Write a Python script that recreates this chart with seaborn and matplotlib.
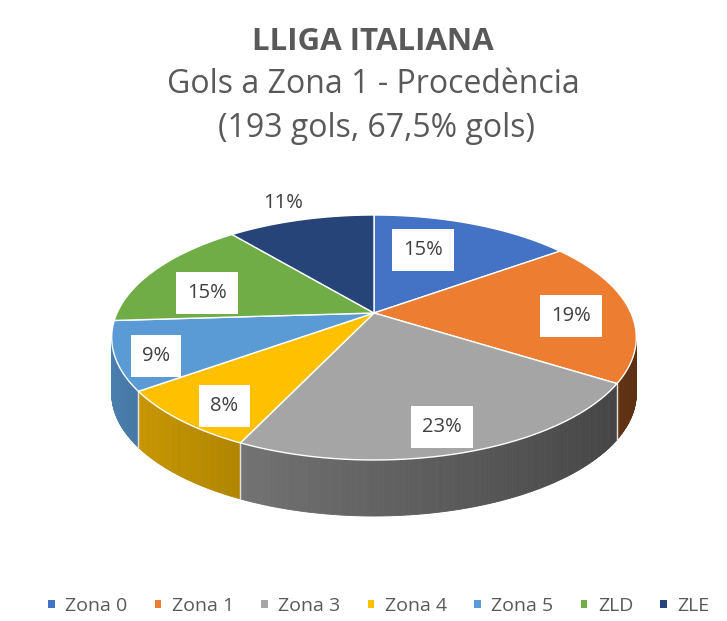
import numpy as np
import matplotlib
matplotlib.use("Agg")
import matplotlib.pyplot as plt
import seaborn as sns
from matplotlib.colors import to_rgb
from matplotlib.collections import PolyCollection
from matplotlib.path import Path
from matplotlib.transforms import Transform

# Procedència dels gols a zona 1 (lliga italiana)
categories = ["Zona 0", "Zona 1", "Zona 3", "Zona 4", "Zona 5", "ZLD", "ZLE"]
percentatges = [15, 19, 23, 8, 9, 15, 11]
colors = ["#4472C4", "#ED7D31", "#A5A5A5", "#FFC000", "#5B9BD5", "#70AD47", "#264478"]

titol = "LLIGA ITALIANA"
linia2 = "Gols a Zona 1 - Procedència"
linia3 = "(193 gols, 67,5% gols)"

# geometria del pastis "3D" (en pixels)
CX, CY = 374, 313
RX, RY = 257, 117.6
D = 5.0
GRUIX = 56
label_r = [0.45, 0.77, 0.8, 0.8, 0.85, 0.75, 1.3]
label_dy = [-19, 6, 7, 10, 7, 13, 6]
amb_caixa = [True, True, True, True, True, True, False]

sns.set_theme(style="white")
plt.rcParams["font.family"] = ["Open Sans", "DejaVu Sans"]
GRIS = "#595959"


class Perspectiva(Transform):
    input_dims = output_dims = 2
    is_separable = False

    def transform_non_affine(self, values):
        v = np.asarray(values, dtype=float)
        s = D / (D + v[:, 1])
        return np.column_stack([CX + RX * v[:, 0] * s, CY - RY * v[:, 1] * s])

    def transform_path_non_affine(self, path):
        # mostreja les corbes de Bezier abans de projectar
        pts = []
        for seg, code in path.iter_bezier():
            if code == Path.MOVETO:
                pts.append(seg.control_points[0])
            else:
                pts.extend(seg(np.linspace(0, 1, 24))[1:])
        return Path(self.transform_non_affine(np.array(pts)), closed=True)


persp = Perspectiva()

fig = plt.figure(figsize=(7.27, 6.21), dpi=100)
ax = fig.add_axes([0, 0, 1, 1])

wedges, _ = ax.pie(percentatges, colors=colors, startangle=90, counterclock=False,
                   wedgeprops=dict(edgecolor="white", linewidth=1.0))

# llegenda abans de canviar la transformacio dels sectors
leg = ax.legend(wedges, categories, loc="center", ncol=7, frameon=False,
                bbox_to_anchor=(379 / 727, 1 - 606 / 621), bbox_transform=fig.transFigure,
                fontsize=14, handlelength=0.33, handleheight=0.33, handletextpad=0.55,
                columnspacing=1.4, labelcolor=GRIS)
for h in leg.legend_handles:
    h.set_edgecolor("none")

for w in wedges:
    w.set_transform(persp + ax.transData)
    w.set_zorder(3)

ax.set_aspect("auto")
ax.set_xlim(0, 727)
ax.set_ylim(621, 0)
ax.axis("off")

# silueta: angles on la paret deixa de ser visible
graella = np.radians(np.linspace(180, 360, 721))
xs = persp.transform(np.column_stack([np.cos(graella), np.sin(graella)]))[:, 0]
a_esq, a_dre = graella[np.argmin(xs)], graella[np.argmax(xs)]


def visible(a):
    a = np.mod(a, 2 * np.pi)
    return a_esq <= a <= a_dre


# paret lateral (nomes la part frontal)
polys, fcols = [], []
vores = []
for w, c in zip(wedges, colors):
    t1, t2 = w.theta1, w.theta2
    angs = np.radians(np.linspace(t1, t2, int(abs(t2 - t1) * 2) + 2))
    pts = persp.transform(np.column_stack([np.cos(angs), np.sin(angs)]))
    base = np.array(to_rgb(c))
    for i in range(len(angs) - 1):
        if not visible((angs[i] + angs[i + 1]) / 2):
            continue
        p1, p2 = pts[i], pts[i + 1]
        quad = [p1, p2, p2 + [0, GRUIX], p1 + [0, GRUIX]]
        xm = (np.cos(angs[i]) + np.cos(angs[i + 1])) / 2
        f = 0.6 - 0.22 * xm
        polys.append(quad)
        fcols.append(np.clip(base * f, 0, 1))
    for a in (angs[0], angs[-1]):
        if visible(a) and abs(a - a_esq) > 1e-3:
            vores.append(persp.transform([[np.cos(a), np.sin(a)]])[0])

ax.add_collection(PolyCollection(polys, facecolors=fcols, edgecolors=fcols,
                                 linewidths=0.6, zorder=1))
for p in vores:
    ax.plot([p[0], p[0]], [p[1], p[1] + GRUIX], color="#e0e0e0", lw=0.9, zorder=2)

# etiquetes de percentatge
for w, pct, r, dy, caixa in zip(wedges, percentatges, label_r, label_dy, amb_caixa):
    a = np.radians((w.theta1 + w.theta2) / 2)
    x, y = persp.transform([[r * np.cos(a), r * np.sin(a)]])[0]
    kw = {}
    if caixa:
        kw["bbox"] = dict(boxstyle="square,pad=0.55", facecolor="white", edgecolor="none")
    ax.text(x, y + dy, f"{pct}%", ha="center", va="center", fontsize=14.5,
            color="#404040", zorder=5, **kw)

# titols
ax.text(373, 50, titol, ha="center", va="baseline", fontsize=22.5,
        fontweight="bold", color=GRIS)
ax.text(373, 93, linia2, ha="center", va="baseline", fontsize=23, color=GRIS)
ax.text(376, 137, linia3, ha="center", va="baseline", fontsize=23, color=GRIS)

fig.savefig("out.png", dpi=100, facecolor="white")
